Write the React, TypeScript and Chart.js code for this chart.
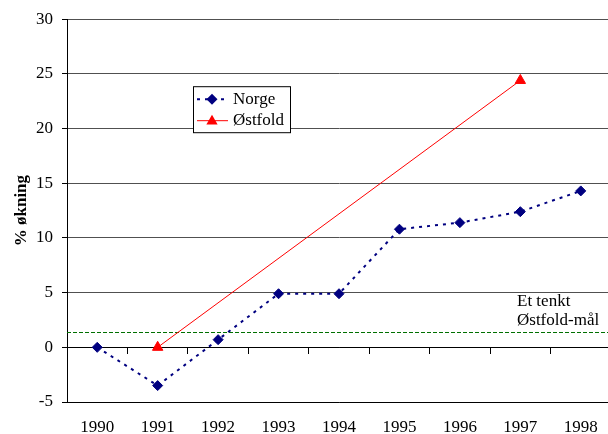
import React, { useEffect, useRef } from 'react';
import { Chart, registerables } from 'chart.js';

Chart.register(...registerables);

const years = ['1990', '1991', '1992', '1993', '1994', '1995', '1996', '1997', '1998'];
const norge = [0, -3.5, 0.7, 4.9, 4.9, 10.8, 11.4, 12.4, 14.3];
const ostfold = [null, 0, null, null, null, null, null, 24.4, null];
const yMin = -5;
const yMax = 30;
const yStep = 5;
const targetValue = 1.4;
const targetLabel = ['Et tenkt', 'Østfold-mål'];
const yTitle = '% økning';
const seriesNames = ['Norge', 'Østfold'];

const FONT = '"Liberation Serif", "Times New Roman", serif';
const NAVY = '#000080';
const RED = '#FF0000';
const GREEN = '#007000';

function diamond(ctx: CanvasRenderingContext2D, x: number, y: number, r: number) {
  ctx.beginPath();
  ctx.moveTo(x - r, y);
  ctx.lineTo(x, y - r);
  ctx.lineTo(x + r, y);
  ctx.lineTo(x, y + r);
  ctx.closePath();
  ctx.fill();
}

function triangle(ctx: CanvasRenderingContext2D, x: number, y: number, r: number) {
  ctx.beginPath();
  ctx.moveTo(x, y - r);
  ctx.lineTo(x + r * Math.sin((2 * Math.PI) / 3), y - r * Math.cos((2 * Math.PI) / 3));
  ctx.lineTo(x + r * Math.sin((4 * Math.PI) / 3), y - r * Math.cos((4 * Math.PI) / 3));
  ctx.closePath();
  ctx.fill();
}

const targetPlugin = {
  id: 'targetLine',
  beforeDatasetsDraw(chart: any) {
    const { ctx, chartArea, scales } = chart;
    const y = Math.round(scales.y.getPixelForValue(targetValue)) + 0.5;
    ctx.save();
    ctx.strokeStyle = GREEN;
    ctx.lineWidth = 1;
    ctx.setLineDash([4, 2]);
    ctx.beginPath();
    ctx.moveTo(chartArea.left, y);
    ctx.lineTo(chartArea.right, y);
    ctx.stroke();
    ctx.setLineDash([]);
    ctx.fillStyle = '#000';
    ctx.font = `17px ${FONT}`;
    ctx.textAlign = 'left';
    ctx.textBaseline = 'alphabetic';
    const tx = chartArea.left + 450;
    ctx.fillText(targetLabel[0], tx, y - 27);
    ctx.fillText(targetLabel[1], tx, y - 8);
    ctx.restore();
  },
};

const legendPlugin = {
  id: 'boxLegend',
  afterDraw(chart: any) {
    const { ctx, chartArea } = chart;
    const left = chartArea.left + 126;
    const top = chartArea.top + 67;
    const w = 97;
    const h = 46;
    ctx.save();
    ctx.fillStyle = '#fff';
    ctx.fillRect(left, top, w, h);
    ctx.strokeStyle = '#000';
    ctx.lineWidth = 1;
    ctx.strokeRect(left + 0.5, top + 0.5, w, h);

    const y1 = top + 13;
    const y2 = top + 34;
    const lx1 = left + 4;
    const lx2 = left + 35;
    const mx = left + 19;

    ctx.strokeStyle = NAVY;
    ctx.lineWidth = 2;
    ctx.setLineDash([3, 5]);
    ctx.beginPath();
    ctx.moveTo(lx1, y1);
    ctx.lineTo(lx2, y1);
    ctx.stroke();
    ctx.setLineDash([]);
    ctx.fillStyle = NAVY;
    diamond(ctx, mx, y1, 5.5);

    ctx.strokeStyle = RED;
    ctx.lineWidth = 1;
    ctx.beginPath();
    ctx.moveTo(lx1, y2 + 0.5);
    ctx.lineTo(lx2, y2 + 0.5);
    ctx.stroke();
    ctx.fillStyle = RED;
    triangle(ctx, mx, y2 + 1, 6.5);

    ctx.fillStyle = '#000';
    ctx.font = `17px ${FONT}`;
    ctx.textAlign = 'left';
    ctx.textBaseline = 'middle';
    ctx.fillText(seriesNames[0], left + 40, y1);
    ctx.fillText(seriesNames[1], left + 40, y2);
    ctx.restore();
  },
};

export default function App() {
  const canvasRef = useRef<HTMLCanvasElement | null>(null);

  useEffect(() => {
    if (!canvasRef.current) return;
    const chart = new Chart(canvasRef.current, {
      type: 'line',
      data: {
        labels: years,
        datasets: [
          {
            label: seriesNames[0],
            data: norge,
            borderColor: NAVY,
            backgroundColor: NAVY,
            borderWidth: 2,
            borderDash: [3, 5],
            pointStyle: 'rectRot',
            pointRadius: 5,
            pointBorderWidth: 1,
            pointBackgroundColor: NAVY,
            pointBorderColor: NAVY,
            tension: 0,
            fill: false,
          },
          {
            label: seriesNames[1],
            data: ostfold,
            borderColor: RED,
            backgroundColor: RED,
            borderWidth: 1,
            pointStyle: 'triangle',
            pointRadius: 6,
            pointBorderWidth: 1,
            pointBackgroundColor: RED,
            pointBorderColor: RED,
            spanGaps: true,
            tension: 0,
            fill: false,
          },
        ],
      },
      options: {
        animation: false,
        responsive: false,
        maintainAspectRatio: false,
        layout: { padding: { top: 17, left: 0, right: 0, bottom: 0 } },
        plugins: {
          legend: { display: false },
          tooltip: { enabled: false },
        },
        scales: {
          x: {
            type: 'category',
            offset: true,
            grid: { display: false, drawTicks: false },
            border: { display: true, color: '#000', width: 1 },
            ticks: {
              color: '#000',
              font: { family: FONT, size: 17 },
              padding: 15,
              maxRotation: 0,
              autoSkip: false,
            },
            afterFit: (s: any) => {
              s.height = 32;
              s.paddingLeft = 0;
              s.paddingRight = 0;
            },
          },
          x2: {
            type: 'category',
            axis: 'x',
            position: { y: 0 },
            offset: true,
            grid: {
              display: true,
              offset: true,
              drawOnChartArea: false,
              drawTicks: true,
              tickLength: 6,
              color: '#000',
              tickColor: '#000',
            },
            border: { display: true, color: '#000', width: 1 },
            ticks: { display: false },
            afterFit: (s: any) => {
              s.height = 0;
              s.paddingLeft = 0;
              s.paddingRight = 0;
            },
          },
          y: {
            min: yMin,
            max: yMax,
            ticks: {
              stepSize: yStep,
              color: '#000',
              font: { family: FONT, size: 17 },
              padding: 9,
            },
            grid: {
              color: (c: any) => (c.tick && c.tick.value === 0 ? '#000' : '#505050'),
              tickColor: '#000',
              tickLength: 5,
              lineWidth: 1,
            },
            border: { display: true, color: '#000', width: 1 },
            title: {
              display: true,
              text: yTitle,
              color: '#000',
              font: { family: FONT, size: 17, weight: 'bold' },
              padding: { top: 11, bottom: 0 },
            },
            afterFit: (s: any) => {
              s.width = 67;
            },
          },
        },
      },
      plugins: [targetPlugin, legendPlugin],
    } as any);
    return () => chart.destroy();
  }, []);

  return (
    <div style={{ position: 'absolute', left: 0, top: 0, width: 608, height: 434, overflow: 'hidden', background: '#fff' }}>
      <canvas ref={canvasRef} width={618} height={434} style={{ display: 'block', width: 618, height: 434 }} />
    </div>
  );
}
